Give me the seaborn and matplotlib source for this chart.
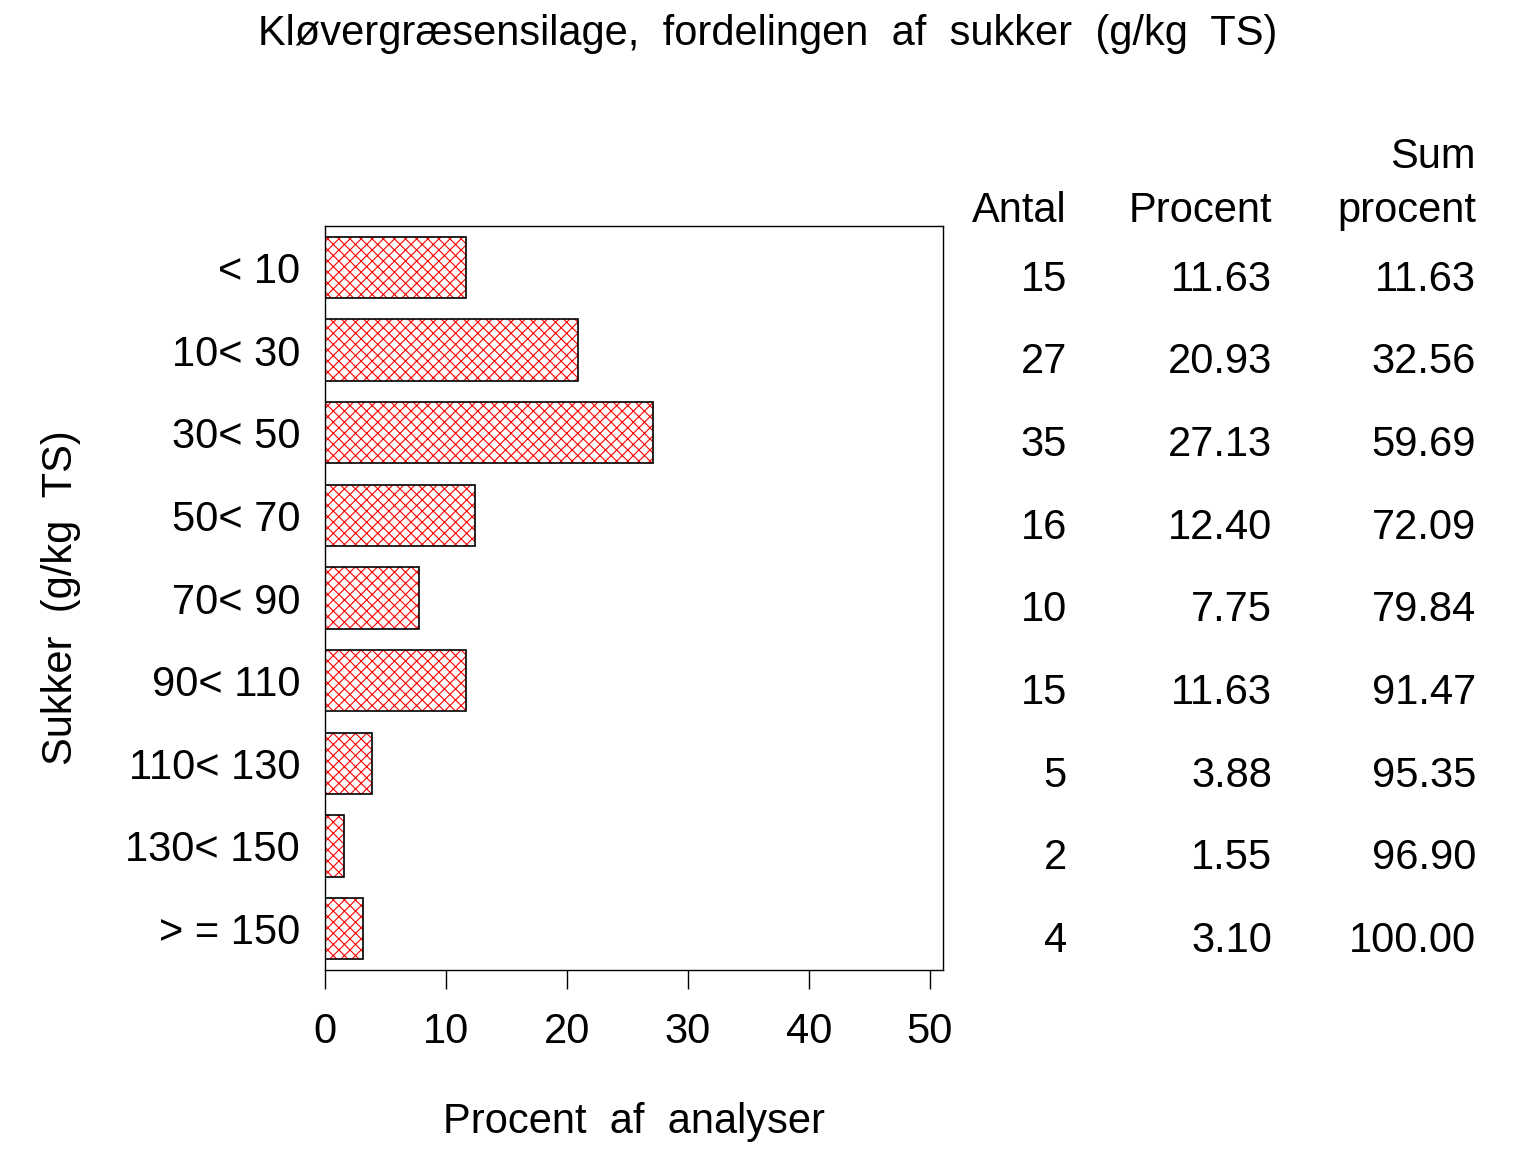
import pandas as pd
import matplotlib.pyplot as plt
import matplotlib.transforms as mtransforms
import seaborn as sns

# data
categories = ["< 10", "10< 30", "30< 50", "50< 70", "70< 90",
              "90< 110", "110< 130", "130< 150", "> = 150"]
antal = [15, 27, 35, 16, 10, 15, 5, 2, 4]
procent = [11.63, 20.93, 27.13, 12.40, 7.75, 11.63, 3.88, 1.55, 3.10]
sum_procent = [11.63, 32.56, 59.69, 72.09, 79.84, 91.47, 95.35, 96.90, 100.00]
x_ticks = [0, 10, 20, 30, 40, 50]

df = pd.DataFrame({"kat": categories, "procent": procent})

sns.set_style("white")
plt.rcParams['font.family'] = ['Liberation Sans Narrow', 'Liberation Sans', 'DejaVu Sans']
plt.rcParams['text.color'] = 'black'
plt.rcParams['axes.labelcolor'] = 'black'
plt.rcParams['xtick.color'] = 'black'
plt.rcParams['ytick.color'] = 'black'
plt.rcParams['hatch.linewidth'] = 0.8
plt.rcParams['hatch.color'] = 'red'

fig = plt.figure(figsize=(15.36, 11.52), dpi=100)
ax = fig.add_axes([0.2116, 0.158, 0.4023, 0.6458])

# red crosshatch fill
sns.barplot(data=df, x="procent", y="kat", order=categories, ax=ax,
            color="white", width=0.74, edgecolor="red", linewidth=0,
            hatch="xxx")
for p in ax.patches:
    p.set_hatch("xxx")
    p.set_edgecolor("red")
    p.set_linewidth(0)
# black outline on top
sns.barplot(data=df, x="procent", y="kat", order=categories, ax=ax,
            fill=False, width=0.74, edgecolor="black", linewidth=1.2)

ax.set_xlim(0, 51.1)
ax.set_xticks(x_ticks)
ax.set_xticklabels([str(t) for t in x_ticks])
ax.tick_params(axis="x", direction="out", length=14, width=1.0,
               color="black", pad=16, labelsize=30, bottom=True)
ax.tick_params(axis="y", length=0, pad=18, labelsize=30)
for s in ax.spines.values():
    s.set_visible(True)
    s.set_color("black")
    s.set_linewidth(1.0)

ax.set_xlabel("Procent  af  analyser", fontsize=30, labelpad=36)
ax.set_ylabel("Sukker  (g/kg  TS)", fontsize=30, labelpad=32)

fig.suptitle("Kløvergræsensilage,  fordelingen  af  sukker  (g/kg  TS)",
             fontsize=30, x=0.5, y=0.988, va="top")

# table to the right
tr = mtransforms.blended_transform_factory(fig.transFigure, ax.transData)
col_x = [1067 / 1536, 1272 / 1536, 1476 / 1536]
fs = 30
ax.text(col_x[2], -1.33, "Sum", transform=tr, ha="right", va="center", fontsize=fs, clip_on=False)
for cx, head in zip(col_x, ["Antal", "Procent", "procent"]):
    ax.text(cx, -0.68, head, transform=tr, ha="right", va="center", fontsize=fs, clip_on=False)
for i in range(len(categories)):
    row = [str(antal[i]), f"{procent[i]:.2f}", f"{sum_procent[i]:.2f}"]
    for cx, val in zip(col_x, row):
        ax.text(cx, i + 0.15, val, transform=tr, ha="right", va="center",
                fontsize=fs, clip_on=False)

plt.savefig("out.png", dpi=100)
